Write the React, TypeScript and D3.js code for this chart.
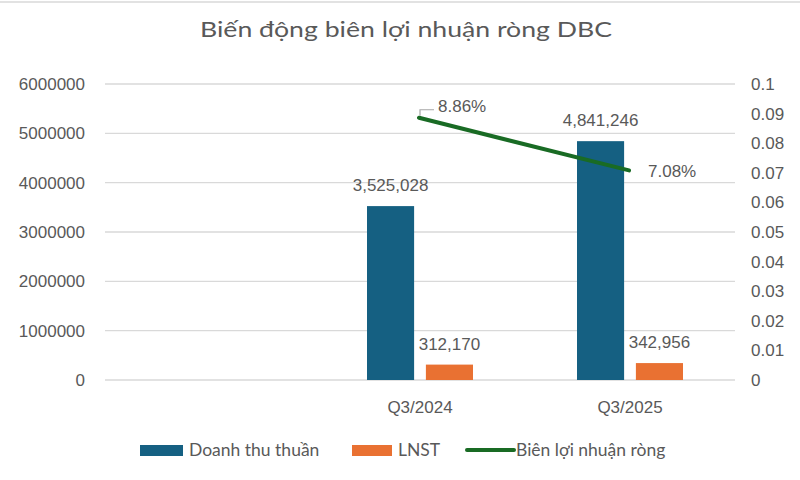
import React, { useEffect, useRef } from 'react';
import * as d3 from 'd3';

// Data
const categories = ['', 'Q3/2024', 'Q3/2025'];
const revenue: (number | null)[] = [null, 3525028, 4841246];
const netProfit: (number | null)[] = [null, 312170, 342956];
const netMargin: (number | null)[] = [null, 0.0886, 0.0708];
const leftTicks = [0, 1000000, 2000000, 3000000, 4000000, 5000000, 6000000];
const rightTicks = [0, 0.01, 0.02, 0.03, 0.04, 0.05, 0.06, 0.07, 0.08, 0.09, 0.1];
const seriesNames = ['Doanh thu thuần', 'LNST', 'Biên lợi nhuận ròng'];

const BLUE = '#156082';
const ORANGE = '#E97132';
const GREEN = '#196B24';
const TEXT = '#595959';
const GRID = '#d9d9d9';
const NUM_FONT = '"Liberation Sans", Arial, sans-serif';
const LABEL_FONT = 'Lato, "Noto Sans", sans-serif';

export default function App() {
  const svgRef = useRef<SVGSVGElement>(null);

  useEffect(() => {
    const width = 800;
    const height = 480;
    const plot = { left: 105, right: 735, top: 84, bottom: 380 };

    const svg = d3.select(svgRef.current);
    svg.selectAll('*').remove();
    svg.attr('width', width).attr('height', height);

    svg.append('rect').attr('width', width).attr('height', height).attr('fill', '#fff');
    // thin border line along the top edge
    svg.append('line').attr('x1', 0).attr('x2', width).attr('y1', 2).attr('y2', 2)
      .attr('stroke', '#e2e2e2').attr('stroke-width', 2);

    // Scales
    const x = d3.scaleBand().domain(categories).range([plot.left, plot.right]).padding(0);
    const yL = d3.scaleLinear().domain([0, 6000000]).range([plot.bottom, plot.top]);
    const yR = d3.scaleLinear().domain([0, 0.1]).range([plot.bottom, plot.top]);
    const groupW = 106;

    // Title
    svg.append('text').attr('x', 406).attr('y', 37).attr('text-anchor', 'middle')
      .attr('fill', TEXT).attr('font-family', LABEL_FONT).attr('font-size', 21)
      .attr('textLength', 412).attr('lengthAdjust', 'spacingAndGlyphs')
      .text('Biến động biên lợi nhuận ròng DBC');

    // Grid
    svg.append('g').selectAll('line').data(leftTicks).join('line')
      .attr('x1', plot.left).attr('x2', plot.right)
      .attr('y1', d => yL(d)).attr('y2', d => yL(d))
      .attr('stroke', GRID).attr('stroke-width', 1.3);

    // Left axis labels
    svg.append('g').selectAll('text').data(leftTicks).join('text')
      .attr('x', 85).attr('y', d => yL(d)).attr('dy', '0.35em')
      .attr('text-anchor', 'end').attr('fill', TEXT)
      .attr('font-family', NUM_FONT).attr('font-size', 17)
      .text(d => d3.format('d')(d));

    // Right axis labels
    svg.append('g').selectAll('text').data(rightTicks).join('text')
      .attr('x', 751).attr('y', d => yR(d)).attr('dy', '0.35em')
      .attr('text-anchor', 'start').attr('fill', TEXT)
      .attr('font-family', NUM_FONT).attr('font-size', 17)
      .text(d => String(+d.toFixed(2)));

    // Category labels
    svg.append('g').selectAll('text').data(categories).join('text')
      .attr('x', d => (x(d) as number) + x.bandwidth() / 2).attr('y', 413)
      .attr('text-anchor', 'middle').attr('fill', TEXT)
      .attr('font-family', NUM_FONT).attr('font-size', 17)
      .text(d => d);

    // Bars
    const rows = categories.map((c, i) => ({ c, rev: revenue[i], np: netProfit[i], m: netMargin[i] }));
    const sub = (c: string) => {
      const cx = (x(c) as number) + x.bandwidth() / 2;
      return d3.scaleBand().domain(['rev', 'np']).range([cx - groupW / 2, cx + groupW / 2]).paddingInner(0.2);
    };
    const barData = rows.flatMap(r => [
      { c: r.c, key: 'rev', v: r.rev, color: BLUE },
      { c: r.c, key: 'np', v: r.np, color: ORANGE },
    ]).filter(d => d.v != null) as { c: string; key: string; v: number; color: string }[];

    const bars = svg.append('g');
    bars.selectAll('rect').data(barData).join('rect')
      .attr('x', d => sub(d.c)(d.key) as number)
      .attr('width', d => sub(d.c).bandwidth())
      .attr('y', d => yL(d.v))
      .attr('height', d => yL(0) - yL(d.v))
      .attr('fill', d => d.color);

    bars.selectAll('text').data(barData).join('text')
      .attr('x', d => (sub(d.c)(d.key) as number) + sub(d.c).bandwidth() / 2)
      .attr('y', d => yL(d.v) - 21).attr('dy', '0.35em')
      .attr('text-anchor', 'middle').attr('fill', TEXT)
      .attr('font-family', NUM_FONT).attr('font-size', 17)
      .text(d => d3.format(',')(d.v));

    // Margin line
    const lineData = rows.filter(r => r.m != null) as { c: string; m: number }[];
    const cxOf = (c: string) => (x(c) as number) + x.bandwidth() / 2;
    const line = d3.line<{ c: string; m: number }>().x(d => cxOf(d.c) - 1).y(d => yR(d.m));
    svg.append('path').datum(lineData).attr('d', line)
      .attr('fill', 'none').attr('stroke', GREEN).attr('stroke-width', 4).attr('stroke-linecap', 'round');

    // Line labels (first one with a leader line, second to the right)
    const offsets = [{ dx: 19, dy: -12 }, { dx: 19, dy: 1 }];
    lineData.forEach((d, i) => {
      const px = cxOf(d.c) - 1;
      const py = yR(d.m);
      const o = offsets[i];
      if (i === 0) {
        svg.append('path')
          .attr('d', `M${px + 1},${py - 2}V${py + o.dy + 4}H${px + o.dx - 4}`)
          .attr('fill', 'none').attr('stroke', '#a6a6a6').attr('stroke-width', 1.2);
      }
      svg.append('text').attr('x', px + o.dx).attr('y', py + o.dy).attr('dy', '0.35em')
        .attr('fill', TEXT).attr('font-family', NUM_FONT).attr('font-size', 17)
        .text(d3.format('.2%')(d.m));
    });

    // Legend
    const legend = svg.append('g').attr('font-family', LABEL_FONT).attr('font-size', 17.5).attr('fill', TEXT);
    const legendItems = [
      { name: seriesNames[0], color: BLUE, type: 'rect', x: 140, w: 43, tx: 189 },
      { name: seriesNames[1], color: ORANGE, type: 'rect', x: 352, w: 40, tx: 398 },
      { name: seriesNames[2], color: GREEN, type: 'line', x: 467, w: 47, tx: 516 },
    ];
    legendItems.forEach(it => {
      if (it.type === 'rect') {
        legend.append('rect').attr('x', it.x).attr('y', 445).attr('width', it.w).attr('height', 11).attr('fill', it.color);
      } else {
        legend.append('line').attr('x1', it.x).attr('x2', it.x + it.w).attr('y1', 450).attr('y2', 450)
          .attr('stroke', it.color).attr('stroke-width', 4).attr('stroke-linecap', 'round');
      }
      legend.append('text').attr('x', it.tx).attr('y', 450).attr('dy', '0.35em').text(it.name);
    });
  }, []);

  return (
    <div style={{ position: 'absolute', left: 0, top: 0, width: 800, height: 480 }}>
      <svg ref={svgRef} style={{ display: 'block' }} />
    </div>
  );
}
